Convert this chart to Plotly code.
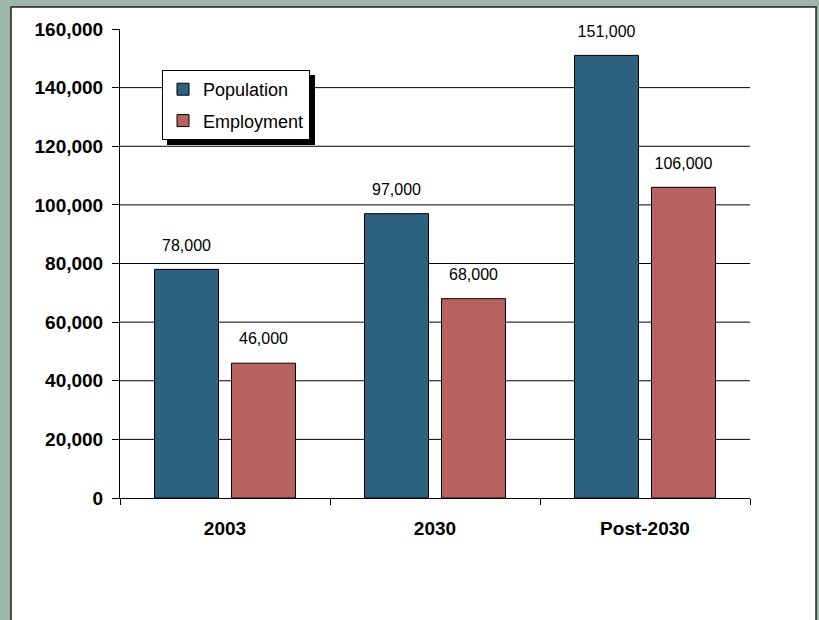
import plotly.graph_objects as go

# ---- data ----
categories = ["2003", "2030", "Post-2030"]
population = [78000, 97000, 151000]
employment = [46000, 68000, 106000]
y_ticks = [0, 20000, 40000, 60000, 80000, 100000, 120000, 140000, 160000]
grid_values = [20000, 40000, 60000, 80000, 100000, 120000, 140000]

FONT = "Arial, Liberation Sans, sans-serif"
POP_COLOR = "#2d6280"
EMP_COLOR = "#b96360"
BG = "#9fb6aa"

fig = go.Figure()
fig.add_trace(go.Bar(name="Population", x=categories, y=population,
                     marker=dict(color=POP_COLOR, line=dict(color="black", width=1)),
                     offsetgroup="pop", legendgroup="pop", hoverinfo="skip"))
fig.add_trace(go.Bar(name="Employment", x=categories, y=employment,
                     marker=dict(color=EMP_COLOR, line=dict(color="black", width=1)),
                     offsetgroup="emp", legendgroup="emp", hoverinfo="skip"))

# value labels, grouped with the bars
for vals, grp in ((population, "pop"), (employment, "emp")):
    fig.add_trace(go.Scatter(x=categories, y=vals, mode="markers+text",
                             text=[f"{v:,}" for v in vals], textposition="top center",
                             textfont=dict(family=FONT, size=16, color="black"),
                             marker=dict(size=22, color="rgba(0,0,0,0)"),
                             offsetgroup=grp, showlegend=False, hoverinfo="skip",
                             cliponaxis=False))

shapes = [
    # white panel
    dict(type="rect", xref="paper", yref="paper", x0=-0.173, x1=1.1048, y0=-0.28, y1=1.0469,
         fillcolor="white", line=dict(color="#222", width=1.5), layer="below"),
]
for g in grid_values:
    shapes.append(dict(type="line", xref="paper", yref="y", x0=0, x1=1, y0=g, y1=g,
                       line=dict(color="black", width=1), layer="below"))
# legend shadow
shapes.append(dict(type="rect", xref="paper", yref="paper", x0=0.0746, x1=0.3095,
                   y0=0.7527, y1=0.9019, fillcolor="black", line=dict(width=0), layer="above"))

fig.update_layout(
    width=819, height=620,
    margin=dict(l=120, r=69, t=29, b=122),
    paper_bgcolor=BG, plot_bgcolor="white",
    barmode="group", bargap=0.267, bargroupgap=0.169,
    scattermode="group", scattergap=0.267,
    font=dict(family=FONT, color="black"),
    shapes=shapes,
    showlegend=True,
    legend=dict(x=0.0667, y=0.9126, xanchor="left", yanchor="top",
                bgcolor="white", bordercolor="black", borderwidth=1,
                font=dict(family=FONT, size=18, color="black"),
                traceorder="grouped", tracegroupgap=5),
    xaxis=dict(type="category", showline=True, linecolor="black", linewidth=1,
               ticks="outside", tickson="boundaries", ticklen=6, tickcolor="black",
               tickfont=dict(family=FONT, size=19, weight="bold", color="black"),
               showgrid=False, zeroline=False, fixedrange=True, ticklabelstandoff=13),
    yaxis=dict(range=[0, 160000], tickvals=y_ticks, tickformat=",d",
               showline=True, linecolor="black", linewidth=1,
               ticks="outside", ticklen=7, tickcolor="black",
               tickfont=dict(family=FONT, size=19, weight="bold", color="black"),
               showgrid=False, zeroline=False, fixedrange=True, ticklabelstandoff=5),
)

fig.write_html("out.html", config={"displayModeBar": False},
               post_script="document.body.style.margin='0';")
